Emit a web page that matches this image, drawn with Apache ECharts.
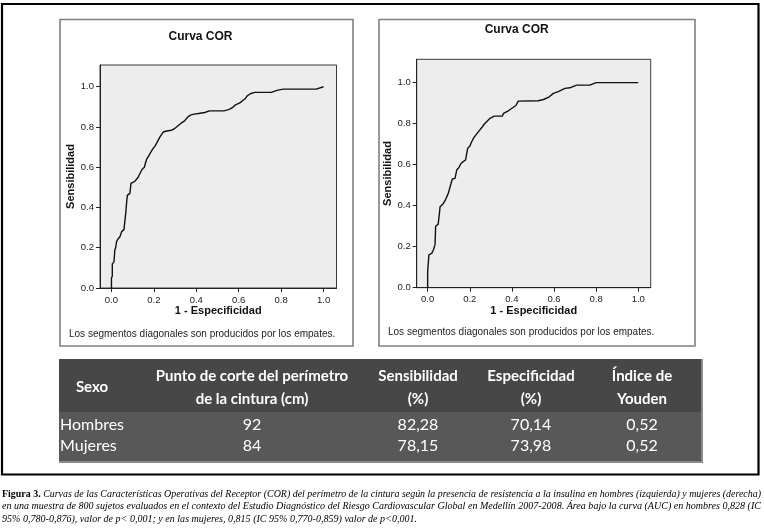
<!DOCTYPE html>
<html><head><meta charset="utf-8">
<script src="https://cdn.jsdelivr.net/npm/echarts@6/dist/echarts.min.js"></script>
<style>html,body{margin:0;padding:0;background:#fff}#c{width:764px;height:532px}</style>
</head><body><div id="c"></div>
<script>
// ROC curve, men (left): [1 - specificity, sensitivity]
const rocHombres = [[0,0],[0,0.05],[0.004,0.06],[0.004,0.12],[0.012,0.13],[0.016,0.19],[0.02,0.2],[0.024,0.23],[0.032,0.245],[0.04,0.255],[0.048,0.28],[0.056,0.285],[0.059,0.29],[0.063,0.33],[0.068,0.38],[0.072,0.43],[0.075,0.46],[0.08,0.465],[0.087,0.47],[0.09,0.5],[0.092,0.52],[0.1,0.525],[0.11,0.53],[0.118,0.54],[0.126,0.55],[0.135,0.57],[0.145,0.59],[0.155,0.6],[0.16,0.62],[0.166,0.64],[0.175,0.655],[0.182,0.66],[0.194,0.69],[0.205,0.705],[0.213,0.72],[0.228,0.75],[0.244,0.775],[0.26,0.78],[0.283,0.784],[0.295,0.79],[0.307,0.8],[0.318,0.81],[0.33,0.82],[0.345,0.83],[0.352,0.84],[0.36,0.85],[0.375,0.86],[0.39,0.864],[0.41,0.867],[0.44,0.872],[0.455,0.878],[0.465,0.88],[0.53,0.88],[0.548,0.885],[0.56,0.89],[0.575,0.9],[0.585,0.91],[0.605,0.92],[0.618,0.93],[0.63,0.94],[0.64,0.955],[0.655,0.965],[0.675,0.972],[0.754,0.972],[0.77,0.978],[0.785,0.983],[0.81,0.988],[0.965,0.988],[0.973,0.997],[1,1]];
// ROC curve, women (right)
const rocMujeres = [[0,0],[0,0.078],[0.006,0.078],[0.006,0.16],[0.019,0.167],[0.027,0.184],[0.035,0.21],[0.038,0.3],[0.05,0.31],[0.055,0.355],[0.059,0.395],[0.074,0.41],[0.085,0.43],[0.098,0.46],[0.106,0.49],[0.117,0.53],[0.13,0.533],[0.138,0.574],[0.149,0.587],[0.158,0.606],[0.169,0.615],[0.18,0.623],[0.19,0.68],[0.2,0.69],[0.209,0.712],[0.22,0.733],[0.233,0.75],[0.248,0.77],[0.26,0.785],[0.27,0.8],[0.28,0.81],[0.296,0.826],[0.304,0.83],[0.316,0.837],[0.354,0.837],[0.36,0.85],[0.383,0.863],[0.407,0.88],[0.42,0.89],[0.43,0.91],[0.525,0.912],[0.55,0.918],[0.573,0.928],[0.597,0.948],[0.62,0.956],[0.652,0.972],[0.675,0.975],[0.707,0.988],[0.77,0.988],[0.8,1],[1,1]];
const axisTicks = [0, 0.2, 0.4, 0.6, 0.8, 1.0];
const chartTitle = 'Curva COR';
const xName = '1 - Especificidad';
const yName = 'Sensibilidad';
const footnote = 'Los segmentos diagonales son producidos por los empates.';
// table
const tableHeader = [['Sexo'], ['Punto de corte del perímetro', 'de la cintura (cm)'], ['Sensibilidad', '(%)'], ['Especificidad', '(%)'], ['Índice de', 'Youden']];
const sexo = ['Hombres', 'Mujeres'];
const puntoCorte = ['92', '84'];
const sensibilidad = ['82,28', '78,15'];
const especificidad = ['70,14', '73,98'];
const youden = ['0,52', '0,52'];
const captionBold = 'Figura 3.';
const captionLines = [
  ' Curvas de las Características Operativas del Receptor (COR) del perímetro de la cintura según la presencia de resistencia a la insulina en hombres (izquierda) y mujeres (derecha)',
  'en una muestra de 800 sujetos evaluados en el contexto del Estudio Diagnóstico del Riesgo Cardiovascular Global en Medellín 2007-2008. Área bajo la curva (AUC) en hombres 0,828 (IC',
  '95% 0,780-0,876), valor de p< 0,001; y en las mujeres, 0,815 (IC 95% 0,770-0,859) valor de p<0,001.'
];

const chart = echarts.init(document.getElementById('c'), null, {renderer: 'canvas'});
const SANS = '"Liberation Sans", Arial, sans-serif';
const SERIF = '"Liberation Serif", "Times New Roman", serif';
const TBL = 'Lato, "Open Sans", sans-serif';

function mkX(idx, min, max, gap) {
  return {
    type: 'value', gridIndex: idx, min: min, max: max,
    name: xName, nameLocation: 'middle', nameGap: gap,
    nameTextStyle: {fontFamily: SANS, fontWeight: 'bold', fontSize: 11, color: '#111'},
    axisLine: {show: true, onZero: false, lineStyle: {color: '#222', width: 1}},
    axisTick: {show: true, length: 4, customValues: axisTicks, lineStyle: {color: '#222'}},
    axisLabel: {customValues: axisTicks, formatter: v => v.toFixed(1), fontFamily: SANS, fontSize: 9.5, color: '#222', margin: 7},
    splitLine: {show: false}
  };
}
function mkY(idx, max, gap) {
  return {
    type: 'value', gridIndex: idx, min: 0, max: max,
    name: yName, nameLocation: 'middle', nameGap: gap,
    nameTextStyle: {fontFamily: SANS, fontWeight: 'bold', fontSize: 11, color: '#111'},
    axisLine: {show: true, onZero: false, lineStyle: {color: '#222', width: 1}},
    axisTick: {show: true, length: 4, customValues: axisTicks, lineStyle: {color: '#222'}},
    axisLabel: {customValues: axisTicks, formatter: v => v.toFixed(1), fontFamily: SANS, fontSize: 9.5, color: '#222', margin: 6},
    splitLine: {show: false}
  };
}

// text width measuring for the justified caption
const mctx = document.createElement('canvas').getContext('2d');
function tw(text, font) { mctx.font = font; return mctx.measureText(text).width; }
const CAP_SIZE = 11;
const fB = 'bold ' + CAP_SIZE + 'px ' + SERIF;
const fI = 'italic ' + CAP_SIZE + 'px ' + SERIF;
const capW = 759;
const s1 = capW / (tw(captionBold, fB) + tw(captionLines[0], fI));
const s2 = capW / tw(captionLines[1], fI);
const capY = [494, 506.5, 519];

const graphic = [];
// outer frame
graphic.push({type: 'rect', shape: {x: 2, y: 4, width: 756.5, height: 470.5}, style: {fill: null, stroke: '#000', lineWidth: 2.2}, z: 0});
// panel frames
graphic.push({type: 'rect', shape: {x: 60, y: 19.5, width: 293, height: 326.5}, style: {fill: null, stroke: '#808080', lineWidth: 1.6}});
graphic.push({type: 'rect', shape: {x: 379, y: 19.5, width: 316, height: 326.5}, style: {fill: null, stroke: '#808080', lineWidth: 1.6}});
// titles
graphic.push({type: 'text', x: 200.5, y: 36.7, style: {text: chartTitle, font: 'bold 12px ' + SANS, fill: '#111', align: 'center', verticalAlign: 'middle'}});
graphic.push({type: 'text', x: 516.7, y: 30, style: {text: chartTitle, font: 'bold 12px ' + SANS, fill: '#111', align: 'center', verticalAlign: 'middle'}});
// footnotes
graphic.push({type: 'text', x: 69, y: 334, style: {text: footnote, font: '10px ' + SANS, fill: '#222', align: 'left', verticalAlign: 'middle'}});
graphic.push({type: 'text', x: 388, y: 332, style: {text: footnote, font: '10px ' + SANS, fill: '#222', align: 'left', verticalAlign: 'middle'}});

// table
const tX = 59, tY = 359, tW = 642, hH = 53, rH = 24.5;
graphic.push({type: 'rect', shape: {x: tX, y: tY, width: tW + 2, height: hH + 2 * rH + 2}, style: {fill: '#8a8a8a'}});
graphic.push({type: 'rect', shape: {x: tX, y: tY, width: tW, height: hH}, style: {fill: '#474747'}});
graphic.push({type: 'rect', shape: {x: tX, y: tY + hH, width: tW, height: 2 * rH}, style: {fill: '#585858'}});
const colX = [92, 252, 418, 531, 642];
const headFont = 'bold 15px ' + TBL;
const bodyFont = '16px ' + TBL;
tableHeader.forEach((lines, i) => {
  const x = colX[i];
  if (lines.length === 1) {
    graphic.push({type: 'text', x: x, y: 387, style: {text: lines[0], font: headFont, fill: '#fff', align: 'center', verticalAlign: 'middle'}});
  } else {
    graphic.push({type: 'text', x: x, y: 376, style: {text: lines[0], font: headFont, fill: '#fff', align: 'center', verticalAlign: 'middle'}});
    graphic.push({type: 'text', x: x, y: 399, style: {text: lines[1], font: headFont, fill: '#fff', align: 'center', verticalAlign: 'middle'}});
  }
});
const rowY = [424.5, 445.5];
[sexo, puntoCorte, sensibilidad, especificidad, youden].forEach((col, i) => {
  col.forEach((v, r) => {
    graphic.push({type: 'text', x: i === 0 ? 60 : colX[i], y: rowY[r], style: {text: v, font: bodyFont, fill: '#fff', align: i === 0 ? 'left' : 'center', verticalAlign: 'middle'}});
  });
});

// caption
graphic.push({type: 'text', x: 2, y: capY[0], scaleX: s1, style: {
  text: '{b|' + captionBold + '}{i|' + captionLines[0] + '}', verticalAlign: 'middle', fill: '#000',
  rich: {b: {fontFamily: SERIF, fontWeight: 'bold', fontSize: CAP_SIZE, fill: '#000'}, i: {fontFamily: SERIF, fontStyle: 'italic', fontSize: CAP_SIZE, fill: '#000'}}
}});
graphic.push({type: 'text', x: 2, y: capY[1], scaleX: s2, style: {text: captionLines[1], font: fI, fill: '#000', verticalAlign: 'middle'}});
graphic.push({type: 'text', x: 2, y: capY[2], scaleX: s2, style: {text: captionLines[2], font: fI, fill: '#000', verticalAlign: 'middle'}});

chart.setOption({
  backgroundColor: '#fff',
  animation: false,
  grid: [
    {left: 100, top: 65, width: 236.5, height: 223, show: true, backgroundColor: '#ededed', borderColor: '#3a3a3a', borderWidth: 1},
    {left: 416.7, top: 59.3, width: 234, height: 228.4, show: true, backgroundColor: '#ededed', borderColor: '#3a3a3a', borderWidth: 1}
  ],
  xAxis: [mkX(0, -0.054, 1.061, 17), mkX(1, -0.052, 1.059, 17)],
  yAxis: [mkY(0, 1.108, 22), mkY(1, 1.114, 19)],
  series: [
    {type: 'line', xAxisIndex: 0, yAxisIndex: 0, data: rocHombres, showSymbol: false, lineStyle: {color: '#111', width: 1.4}},
    {type: 'line', xAxisIndex: 1, yAxisIndex: 1, data: rocMujeres, showSymbol: false, lineStyle: {color: '#111', width: 1.4}}
  ],
  graphic: graphic
});
</script></body></html>
